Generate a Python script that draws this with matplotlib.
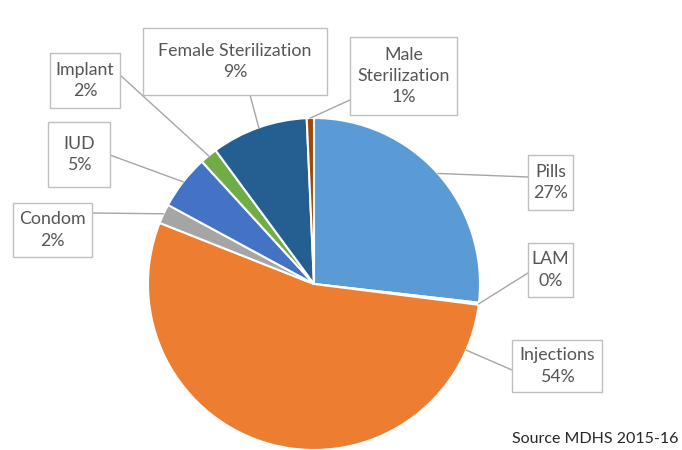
import numpy as np
import matplotlib
matplotlib.use("Agg")
import matplotlib.pyplot as plt
from matplotlib.patches import Rectangle

# ---- data ----
categories = ["Pills", "LAM", "Injections", "Condom", "IUD", "Implant",
              "Female Sterilization", "Male Sterilization"]
shares = [26.8, 0.2, 54.0, 1.9, 5.3, 1.7, 9.4, 0.7]
pct_labels = ["27%", "0%", "54%", "2%", "5%", "2%", "9%", "1%"]
label_names = ["Pills", "LAM", "Injections", "Condom", "IUD", "Implant",
               "Female Sterilization", "Male\nSterilization"]
source_text = "Source MDHS 2015-16"

# ---- style / layout ----
colors = ["#5B9BD5", "#ED7D31", "#ED7D31", "#A5A5A5", "#4472C4", "#70AD47",
          "#255E91", "#9E480E"]
W, H = 682, 450
CX, CY, R = 314, 284, 166  # pie centre / radius in pixels

# label boxes (pixel coords, origin top-left): x0, y0, x1, y1
boxes = [(528, 155, 573, 210), (528, 243, 573, 297), (512, 340, 602, 392),
         (13, 203, 92, 257), (48, 122, 110, 187), (50, 53, 120, 108),
         (143, 28, 327, 95), (350, 37, 457, 115)]
attach = [(528, 177), (528, 273), (512, 370), (92, 213), (110, 155),
          (120, 75), (250, 95), (350, 100)]

FONT = "Lato"
TXT = "#555555"


def P(px, py):
    return ((px - CX) / R, (CY - py) / R)


fig = plt.figure(figsize=(W / 100, H / 100), dpi=100)
ax = fig.add_axes([0, 0, 1, 1])
wedges, _ = ax.pie(shares, colors=colors, startangle=90, counterclock=False,
                   radius=1.0, center=(0, 0),
                   wedgeprops=dict(edgecolor="white", linewidth=1.5))
x0, y0 = P(0, H)
x1, y1 = P(W, 0)
ax.set_xlim(x0, x1)
ax.set_ylim(y0, y1)
ax.set_aspect("auto")
ax.axis("off")

for i, w in enumerate(wedges):
    t1, t2 = w.theta1, w.theta2
    bx0, by0, bx1, by1 = boxes[i]
    ax_, ay_ = P(*attach[i])
    if t2 - t1 > 180:
        ang = np.degrees(np.arctan2(ay_, ax_))
        ang = min(max(ang, t1 + 3), t2 - 3)
    else:
        ang = (t1 + t2) / 2
    ex, ey = np.cos(np.radians(ang)), np.sin(np.radians(ang))
    ax.plot([ax_, ex], [ay_, ey], color="#A6A6A6", lw=1.0, zorder=1)
    (rx0, ry1) = P(bx0, by0)
    (rx1, ry0) = P(bx1, by1)
    ax.add_patch(Rectangle((rx0, ry0), rx1 - rx0, ry1 - ry0, facecolor="white",
                           edgecolor="#BFBFBF", lw=1.0, zorder=3))
    ax.text((rx0 + rx1) / 2, (ry0 + ry1) / 2,
            f"{label_names[i]}\n{pct_labels[i]}", ha="center", va="center",
            fontsize=12.8, family=FONT, color=TXT, linespacing=1.4, zorder=4)

sx, sy = P(678, 439)
ax.text(sx, sy, source_text, ha="right", va="center", fontsize=11.5,
        family=FONT, color="#262626")

fig.savefig("out.png", dpi=100)
